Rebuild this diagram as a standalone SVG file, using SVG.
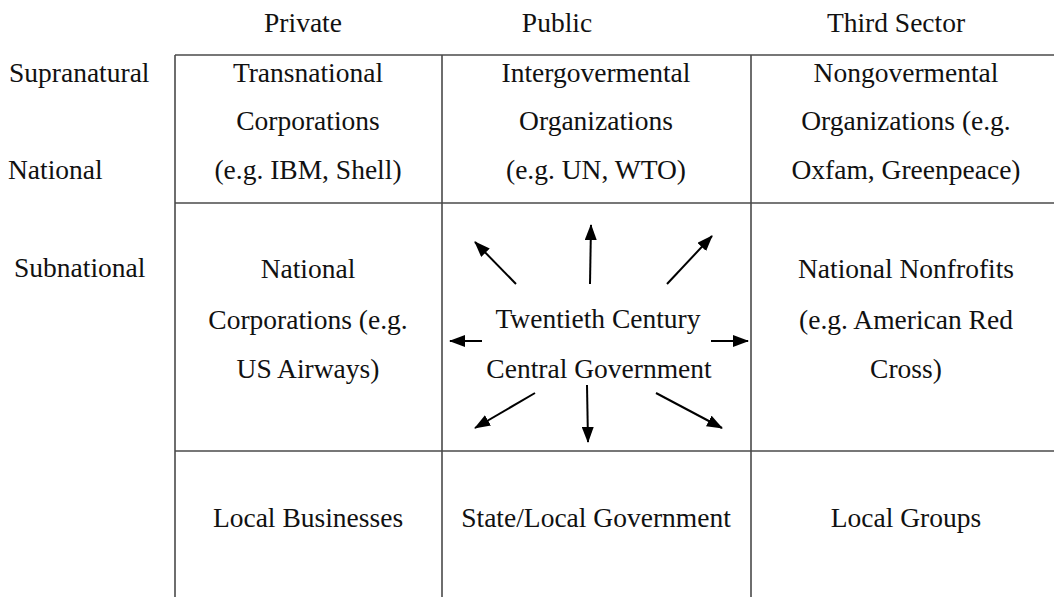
<svg xmlns="http://www.w3.org/2000/svg" width="1054" height="597" viewBox="0 0 1054 597">
<style>
text{font-family:'Liberation Serif','Times New Roman',Times,'DejaVu Serif',serif;font-size:27.5px;fill:#111}
.c{text-anchor:middle}
.grid{stroke:#4a4a4a;stroke-width:1.6;fill:none}
.arr{stroke:#000;stroke-width:2;fill:none;marker-end:url(#ah)}
</style>
<defs>
<marker id="ah" markerUnits="userSpaceOnUse" markerWidth="16" markerHeight="12" refX="15" refY="6" orient="auto">
<path d="M0,0 L16,6 L0,12 Z" fill="#000"/>
</marker>
</defs>
<rect width="1054" height="597" fill="#fff"/>
<g id="grid" class="grid">
<line x1="175" y1="55" x2="175" y2="597"/>
<line x1="442" y1="55" x2="442" y2="597"/>
<line x1="751" y1="55" x2="751" y2="597"/>
<line x1="175" y1="55" x2="1054" y2="55"/>
<line x1="175" y1="203" x2="1054" y2="203"/>
<line x1="175" y1="451" x2="1054" y2="451"/>
</g>
<g font-family="Liberation Serif, Times New Roman, DejaVu Serif, serif">
<g id="headers">
<text class="c" x="303" y="32">Private</text>
<text class="c" x="557" y="32">Public</text>
<text class="c" x="896" y="32">Third Sector</text>
</g>
<g id="row-labels">
<text x="9" y="82">Supranatural</text>
<text x="8" y="179">National</text>
<text x="14" y="277">Subnational</text>
</g>
<g id="transnational">
<text class="c" x="308" y="82">Transnational</text>
<text class="c" x="308" y="130">Corporations</text>
<text class="c" x="308" y="179">(e.g. IBM, Shell)</text>
</g>
<g id="intergovernmental">
<text class="c" x="596" y="82">Intergovermental</text>
<text class="c" x="596" y="130">Organizations</text>
<text class="c" x="596" y="179">(e.g. UN, WTO)</text>
</g>
<g id="nongovernmental">
<text class="c" x="906" y="82">Nongovermental</text>
<text class="c" x="906" y="130">Organizations (e.g.</text>
<text class="c" x="906" y="179">Oxfam, Greenpeace)</text>
</g>
<g id="national-corporations">
<text class="c" x="308" y="278">National</text>
<text class="c" x="308" y="329">Corporations (e.g.</text>
<text class="c" x="308" y="378">US Airways)</text>
</g>
<g id="central-government">
<text class="c" x="598" y="328">Twentieth Century</text>
<text class="c" x="599" y="378">Central Government</text>
</g>
<g id="national-nonprofits">
<text class="c" x="906" y="278">National Nonfrofits</text>
<text class="c" x="906" y="329">(e.g. American Red</text>
<text class="c" x="906" y="378">Cross)</text>
</g>
<g id="local-businesses">
<text class="c" x="308" y="527">Local Businesses</text>
</g>
<g id="state-local-government">
<text class="c" x="596" y="527">State/Local Government</text>
</g>
<g id="local-groups">
<text class="c" x="906" y="527">Local Groups</text>
</g>
</g>
<g id="connectors">
<line class="arr" x1="516" y1="284" x2="475" y2="242"/>
<line class="arr" x1="590" y1="284" x2="591" y2="225"/>
<line class="arr" x1="667" y1="284" x2="712" y2="236"/>
<line class="arr" x1="482" y1="341" x2="450" y2="341"/>
<line class="arr" x1="711" y1="341" x2="748" y2="341"/>
<line class="arr" x1="535" y1="393" x2="475" y2="428"/>
<line class="arr" x1="587" y1="385" x2="588" y2="442"/>
<line class="arr" x1="656" y1="393" x2="722" y2="428"/>
</g>
</svg>
